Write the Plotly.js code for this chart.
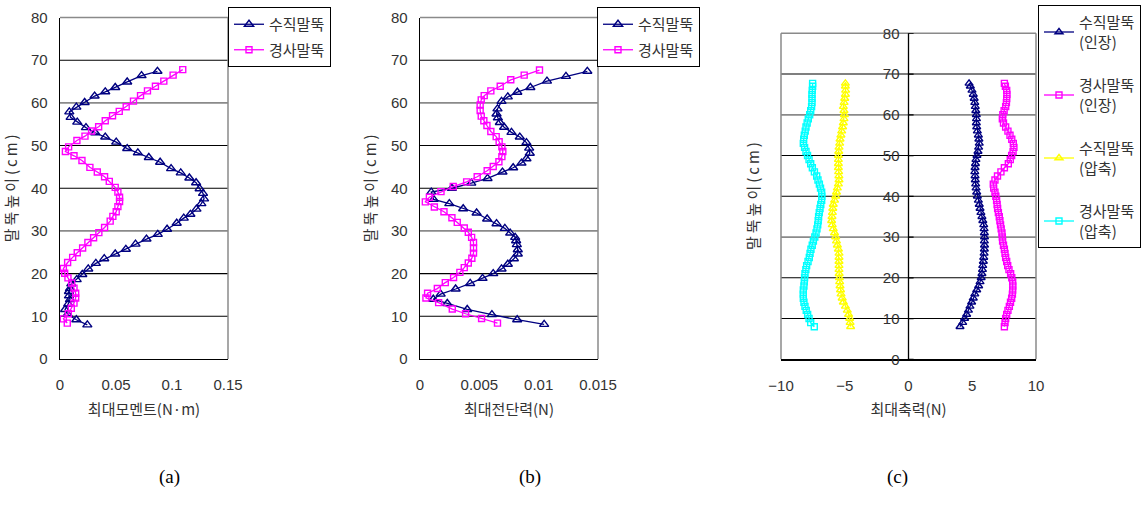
<!DOCTYPE html>
<html>
<head>
<meta charset="utf-8">
<script src="https://cdn.plot.ly/plotly-3.0.1.min.js"></script>
<style>html,body{margin:0;padding:0;background:#fff;}#chart{width:1148px;height:507px;}</style>
</head>
<body>
<div id="chart"></div>
<script>
// ---------- Panel (a): 최대모멘트 ----------
const aVertX = [0.087,0.0728,0.060,0.0493,0.0404,0.0309,0.022,0.0146,0.0083,0.0095,0.0154,0.0232,0.0315,0.0404,0.0502,0.060,0.0695,0.0793,0.0894,0.0992,0.1078,0.1155,0.1215,0.1247,0.1277,0.1286,0.1262,0.1218,0.1164,0.1105,0.1042,0.0956,0.0873,0.0772,0.0674,0.0588,0.0493,0.0395,0.032,0.0252,0.0199,0.0149,0.0101,0.0089,0.008,0.008,0.0089,0.0074,0.0045,0.0068,0.0146,0.0244];
const aVertH = [67.4,66.4,64.9,63.6,62.6,61.6,60.1,59.0,57.9,56.6,55.5,54.2,53.0,52.0,50.8,49.3,48.3,47.2,46.1,44.6,43.6,42.4,41.3,39.9,38.8,37.5,36.4,35.1,33.9,33.0,31.8,30.4,29.2,28.1,26.9,25.7,24.6,23.5,22.4,21.1,19.8,18.6,17.6,16.5,15.8,14.8,13.9,12.9,11.6,10.5,9.2,8.0];
const aInclX = [0.1096,0.101,0.0927,0.0852,0.0781,0.0719,0.0656,0.0591,0.0529,0.0469,0.0404,0.0345,0.0282,0.0223,0.0151,0.0077,0.0048,0.0125,0.0196,0.0267,0.0333,0.0398,0.044,0.0493,0.0517,0.0532,0.0532,0.0517,0.0502,0.0472,0.0448,0.0398,0.0347,0.03,0.0249,0.0202,0.0154,0.0113,0.0068,0.003,0.0042,0.0071,0.0104,0.0125,0.014,0.014,0.0125,0.0101,0.0074,0.003,0.0065];
const aInclH = [67.8,66.5,65.1,63.9,62.8,61.7,60.4,59.1,58.0,57.0,55.8,54.4,53.4,52.2,51.2,49.7,48.6,47.6,46.5,44.9,43.8,42.7,41.6,40.2,39.1,37.9,36.9,35.7,34.5,33.4,32.3,30.8,29.6,28.4,27.3,26.0,24.9,23.8,22.6,21.2,20.1,19.0,17.8,16.6,15.4,14.3,13.1,11.9,10.6,9.4,8.4];

// ---------- Panel (b): 최대전단력 ----------
const bVertX = [0.0141,0.0123,0.0107,0.0093,0.0082,0.0074,0.00687,0.00653,0.00645,0.00656,0.00673,0.00709,0.00771,0.00841,0.00897,0.0092,0.00925,0.00897,0.00855,0.00785,0.00695,0.00569,0.00432,0.00269,0.00095,0.00115,0.00247,0.00364,0.00477,0.00566,0.00645,0.00715,0.0076,0.00802,0.0081,0.00816,0.00824,0.00824,0.00791,0.0074,0.00687,0.00617,0.00527,0.00423,0.003,0.00174,0.00112,0.0023,0.00398,0.00606,0.00819,0.01046];
const bVertH = [67.4,66.2,65.1,63.6,62.5,61.4,60.35,58.6,57.4,56.5,55.4,54.3,53.1,52.0,50.7,49.4,48.2,46.9,45.9,44.8,43.8,42.3,41.2,40.0,39.1,37.4,36.4,35.2,34.2,32.8,31.7,30.6,29.5,28.5,27.7,26.8,25.6,24.6,23.5,22.2,21.1,20.0,18.9,17.7,16.4,15.2,14.0,13.0,11.6,10.4,9.2,8.1];
const bInclX = [0.01007,0.00878,0.00765,0.00676,0.00597,0.00541,0.00516,0.00507,0.00507,0.00516,0.00538,0.00564,0.00597,0.00642,0.00667,0.0069,0.00698,0.0069,0.00665,0.00617,0.00566,0.00482,0.00393,0.0028,0.00177,0.00079,0.00045,0.00121,0.00202,0.00269,0.00314,0.00373,0.00407,0.00435,0.00451,0.00451,0.00451,0.00437,0.00407,0.00373,0.00336,0.00283,0.00213,0.00146,0.00064,0.0005,0.00157,0.00272,0.00384,0.00519,0.00653];
const bInclH = [67.7,66.5,65.4,63.9,62.8,61.7,60.7,59.5,58.2,56.9,55.8,54.7,53.3,52.1,50.9,49.7,48.6,47.4,46.2,45.1,44.1,42.7,41.5,40.4,39.2,37.9,36.8,35.6,34.5,33.1,32.0,30.7,29.7,28.5,27.3,26.0,24.8,23.6,22.5,21.4,20.3,19.1,17.9,16.5,15.4,14.3,13.2,11.7,10.6,9.5,8.4];

// ---------- Panel (c): 최대축력 ----------
const cH = [8,9,10,11,12,13,14,15,16,17,18,19,20,21,22,23,24,25,26,27,28,29,30,31,32,33,34,35,36,37,38,39,40,41,42,43,44,45,46,47,48,49,50,51,52,53,54,55,56,57,58,59,60,61,62,63,64,65,66,67,67.7];
const cVertTen = [4.04,4.25,4.4,4.56,4.7,4.82,4.95,5.08,5.2,5.35,5.5,5.61,5.7,5.76,5.8,5.82,5.87,5.9,5.93,5.95,5.96,5.95,5.96,5.95,5.93,5.9,5.83,5.76,5.68,5.61,5.55,5.48,5.4,5.35,5.3,5.27,5.24,5.22,5.2,5.22,5.25,5.29,5.37,5.45,5.5,5.55,5.52,5.48,5.4,5.35,5.32,5.33,5.32,5.28,5.24,5.2,5.15,5.08,4.98,4.85,4.75];
const cInclTen = [7.52,7.57,7.62,7.7,7.8,7.91,8.0,8.09,8.15,8.17,8.18,8.17,8.1,8.01,7.88,7.78,7.7,7.62,7.57,7.52,7.45,7.38,7.36,7.33,7.27,7.22,7.17,7.12,7.05,6.99,6.95,6.91,6.85,6.78,6.68,6.65,6.78,6.98,7.25,7.52,7.83,7.98,8.09,8.2,8.27,8.22,8.1,7.96,7.8,7.62,7.45,7.36,7.4,7.5,7.62,7.68,7.7,7.72,7.7,7.6,7.52];
const cVertCom = [-4.54,-4.58,-4.61,-4.7,-4.8,-4.95,-5.11,-5.2,-5.29,-5.33,-5.37,-5.4,-5.42,-5.44,-5.45,-5.45,-5.45,-5.45,-5.45,-5.5,-5.58,-5.65,-5.71,-5.8,-5.9,-5.98,-6.03,-6.0,-5.97,-5.94,-5.9,-5.8,-5.71,-5.65,-5.58,-5.5,-5.45,-5.46,-5.48,-5.5,-5.5,-5.5,-5.5,-5.47,-5.45,-5.4,-5.37,-5.3,-5.24,-5.17,-5.11,-5.06,-5.03,-5.06,-5.11,-5.05,-5.0,-4.95,-4.93,-4.95,-4.95];
const cInclCom = [-7.39,-7.67,-7.8,-7.91,-8.02,-8.12,-8.2,-8.25,-8.25,-8.25,-8.2,-8.17,-8.15,-8.12,-8.05,-7.99,-7.88,-7.78,-7.72,-7.65,-7.55,-7.46,-7.35,-7.25,-7.18,-7.12,-7.08,-7.05,-7.0,-6.94,-6.88,-6.81,-6.8,-6.81,-6.9,-6.99,-7.1,-7.2,-7.38,-7.54,-7.67,-7.8,-7.92,-8.04,-8.15,-8.25,-8.22,-8.17,-8.1,-8.04,-7.95,-7.86,-7.75,-7.67,-7.6,-7.57,-7.57,-7.57,-7.55,-7.52,-7.52];

const names2 = ['수직말뚝', '경사말뚝'];
const names4 = ['수직말뚝<br>(인장)', '경사말뚝<br>(인장)', '수직말뚝<br>(압축)', '경사말뚝<br>(압축)'];
const yTicks = [0,10,20,30,40,50,60,70,80];
const gridVals = [10,20,30,40,50,60,70];
const grayGrid = [30,60];

const NAVY = '#000080', MAG = '#FF00FF', YEL = '#FFFF00', CYA = '#00FFFF';
const FONT = 'Liberation Sans, Noto Sans CJK KR, sans-serif';
const KFONT = 'Noto Sans CJK KR, Liberation Sans, sans-serif';
const TS = '\u2009';
const yTitle = ['말','뚝','높','이','(','c','m',')'].join(TS);

function tr(x, y, name, color, sym, xa, ya, leg, size) {
  return {
    x: x, y: y, name: name, type: 'scatter', mode: 'lines+markers',
    xaxis: xa, yaxis: ya, legend: leg, legendgroup: leg + name,
    line: {color: color, width: 1.3},
    marker: {symbol: sym, color: color, size: size || 6, line: {color: color, width: 1.4}}
  };
}

const data = [
  tr(aVertX, aVertH, names2[0], NAVY, 'triangle-up-open', 'x', 'y', 'legend', 8),
  tr(aInclX, aInclH, names2[1], MAG, 'square-open', 'x', 'y', 'legend', 6),
  tr(bVertX, bVertH, names2[0], NAVY, 'triangle-up-open', 'x2', 'y2', 'legend2', 8),
  tr(bInclX, bInclH, names2[1], MAG, 'square-open', 'x2', 'y2', 'legend2', 6),
  tr(cVertTen, cH, names4[0], NAVY, 'triangle-up-open', 'x3', 'y3', 'legend3', 7),
  tr(cInclTen, cH, names4[1], MAG, 'square-open', 'x3', 'y3', 'legend3', 6),
  tr(cVertCom, cH, names4[2], YEL, 'triangle-up-open', 'x3', 'y3', 'legend3', 7),
  tr(cInclCom, cH, names4[3], CYA, 'square-open', 'x3', 'y3', 'legend3', 6)
];

const W = 1148, H = 507;
const px = v => v / W, py = v => 1 - v / H;

const tickFont = {family: FONT, size: 15, color: '#333'};
const titleFont = {family: KFONT, size: 15, color: '#333'};

function xAx(dom, anchor, range, dtick, title) {
  return {
    domain: [px(dom[0]), px(dom[1])], anchor: anchor, range: range, dtick: dtick, tick0: range[0],
    showgrid: false, zeroline: false, showline: true, linecolor: '#000', linewidth: 1.3,
    ticks: '', tickfont: tickFont, ticklabelstandoff: 12, automargin: false,
    title: {text: title, font: titleFont, standoff: 12}
  };
}
function yAx(dom, anchor, title) {
  return {
    domain: [py(dom[1]), py(dom[0])], anchor: anchor, range: [0, 80], tickvals: yTicks,
    showgrid: false, zeroline: false,
    showline: true, linecolor: '#000', linewidth: 1.3, ticks: '', tickfont: tickFont,
    ticklabelstandoff: 8, automargin: false,
    title: {text: title, font: titleFont, standoff: 10}
  };
}

const y3 = yAx([33.3, 359.3], 'free', '');
y3.position = px(908.5);
y3.showline = false;
y3.ticklabelstandoff = 9;

const legendBase = {xanchor: 'left', yanchor: 'top', bordercolor: '#000', borderwidth: 1,
  bgcolor: '#fff', font: {family: KFONT, size: 15, color: '#333'}, itemwidth: 30};

const layout = {
  width: W, height: H, margin: {l: 0, r: 0, t: 0, b: 0},
  paper_bgcolor: '#fff', plot_bgcolor: 'rgba(0,0,0,0)', showlegend: true,
  font: {family: FONT, color: '#333'},
  xaxis: xAx([60, 228], 'y', [0, 0.15], 0.05, '최대모멘트(N·m)'),
  yaxis: yAx([17.5, 359], 'x', yTitle),
  xaxis2: xAx([420, 598], 'y2', [0, 0.015], 0.005, '최대전단력(N)'),
  yaxis2: yAx([17.5, 359], 'x2', yTitle),
  xaxis3: xAx([781, 1036], 'y3', [-10, 10], 5, '최대축력(N)'),
  yaxis3: y3,
  legend: Object.assign({}, legendBase, {x: px(228), y: py(7), tracegroupgap: 3}),
  legend2: Object.assign({}, legendBase, {x: px(597), y: py(7), tracegroupgap: 3}),
  legend3: Object.assign({}, legendBase, {x: px(1038), y: py(5), tracegroupgap: 21}),
  shapes: [],
  annotations: [
    {text: yTitle, xref: 'paper', yref: 'paper', x: px(752), y: py(196), textangle: -90,
     showarrow: false, font: titleFont, xanchor: 'center', yanchor: 'middle'},
    {text: '(a)', xref: 'paper', yref: 'paper', x: px(157), y: py(490), showarrow: false,
     font: {family: 'Liberation Serif, serif', size: 19, color: '#000'}},
    {text: '(b)', xref: 'paper', yref: 'paper', x: px(530), y: py(490), showarrow: false,
     font: {family: 'Liberation Serif, serif', size: 19, color: '#000'}},
    {text: '(c)', xref: 'paper', yref: 'paper', x: px(910), y: py(490), showarrow: false,
     font: {family: 'Liberation Serif, serif', size: 19, color: '#000'}}
  ]
};

// horizontal grid lines (gray at 30 / 60) and gray plot-area borders
const axPairs = [['x', 'y'], ['x2', 'y2'], ['x3', 'y3']];
axPairs.forEach(([xa, ya], i) => {
  gridVals.forEach(v => {
    const gray = grayGrid.indexOf(v) >= 0;
    layout.shapes.push({type: 'line', xref: xa + ' domain', yref: ya, x0: 0, x1: 1, y0: v, y1: v,
      line: {color: gray ? '#8a8a8a' : '#000', width: gray ? 1.8 : 1.1}, layer: 'below'});
  });
  const g = {color: '#8a8a8a', width: 1.5};
  layout.shapes.push({type: 'line', xref: xa + ' domain', yref: ya + ' domain', x0: 0, x1: 1, y0: 1, y1: 1, line: g, layer: 'below'});
  layout.shapes.push({type: 'line', xref: xa + ' domain', yref: ya + ' domain', x0: 1, x1: 1, y0: 0, y1: 1, line: g, layer: 'below'});
  if (i === 2) layout.shapes.push({type: 'line', xref: xa + ' domain', yref: ya + ' domain', x0: 0, x1: 0, y0: 0, y1: 1, line: g, layer: 'below'});
});
// panel (c): vertical value axis at x = 0 with short inward ticks
layout.shapes.push({type: 'line', xref: 'x3', yref: 'y3 domain', x0: 0, x1: 0, y0: 0, y1: 1,
  line: {color: '#000', width: 1.3}, layer: 'below'});
yTicks.forEach(v => layout.shapes.push({type: 'line', xref: 'x3', yref: 'y3', x0: 0, x1: 0.4, y0: v, y1: v,
  line: {color: '#000', width: 1.3}, layer: 'below'}));

Plotly.newPlot('chart', data, layout, {displayModeBar: false, staticPlot: true});
</script>
</body>
</html>
